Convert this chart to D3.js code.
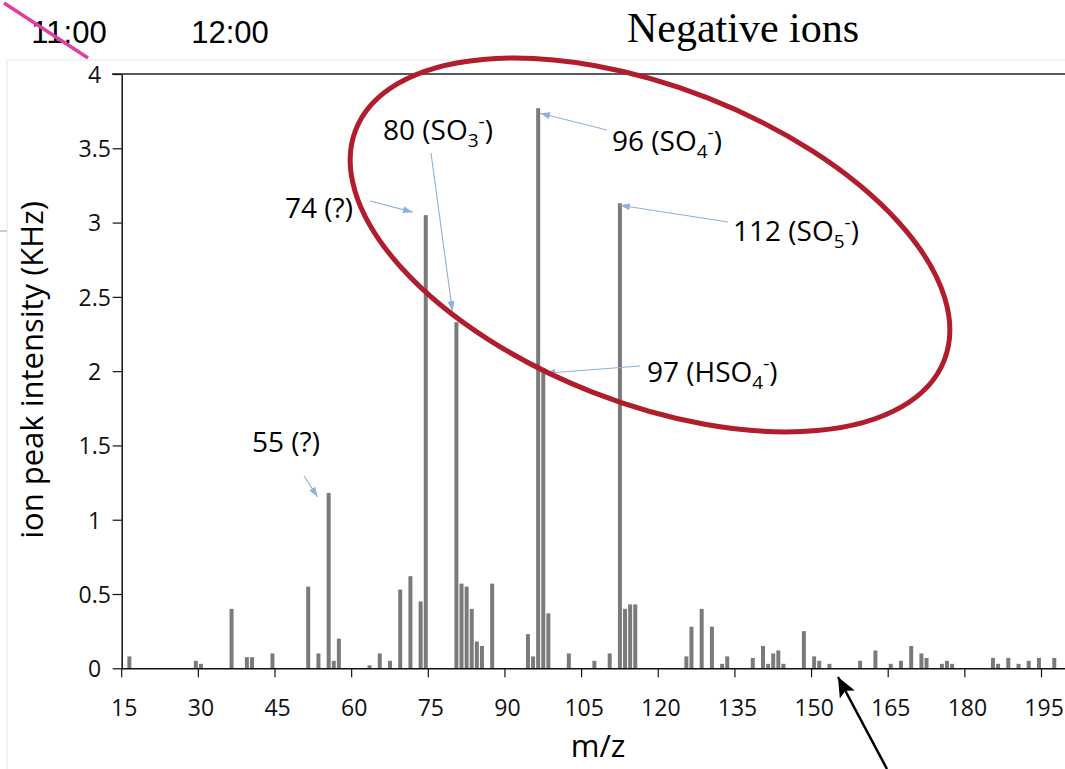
<!DOCTYPE html>
<html>
<head>
<meta charset="utf-8">
<script src="https://cdn.jsdelivr.net/npm/d3@7"></script>
<style>
  body { margin: 0; background: #fff; }
  svg { display: block; }
</style>
</head>
<body>
<svg width="1065" height="769"></svg>
<script>
// m/z channels shown on the category axis
const channels = d3.range(15, 200);
const xLabels = d3.range(15, 200, 15);
const yTicks = [0, 0.5, 1, 1.5, 2, 2.5, 3, 3.5, 4];

// negative ion peaks: m/z and intensity (kHz)
const mz = [16, 29, 30, 36, 39, 40, 44, 51, 53, 55, 56, 57, 63, 65, 67, 69, 71, 73, 74,
    80, 81, 82, 83, 84, 85, 87, 94, 95, 96, 97, 98, 102, 107, 110, 112, 113, 114, 115,
    125, 126, 128, 130, 132, 133, 138, 140, 141, 142, 143, 144, 148, 150, 151, 153,
    159, 162, 165, 167, 169, 171, 172, 175, 176, 177, 185, 186, 188, 190, 192, 194, 197];
const intensity = [0.08, 0.05, 0.03, 0.40, 0.075, 0.075, 0.10, 0.55, 0.10, 1.18, 0.05, 0.20, 0.02, 0.10, 0.05, 0.53, 0.62, 0.45, 3.05,
    2.33, 0.57, 0.55, 0.40, 0.18, 0.15, 0.57, 0.23, 0.08, 3.77, 2.02, 0.37, 0.10, 0.05, 0.10, 3.13, 0.40, 0.43, 0.43,
    0.08, 0.28, 0.40, 0.28, 0.03, 0.08, 0.07, 0.15, 0.03, 0.10, 0.12, 0.03, 0.25, 0.08, 0.05, 0.03,
    0.05, 0.12, 0.03, 0.05, 0.15, 0.10, 0.07, 0.03, 0.05, 0.03, 0.07, 0.03, 0.07, 0.03, 0.05, 0.07, 0.07];

// labelled peaks; pieces are [text, "sub" | "sup" | undefined]
const peakMz = [55, 74, 80, 96, 112, 97];
const peakText = [
    [["55 (?)"]],
    [["74 (?)"]],
    [["80 (SO"], ["3", "sub"], ["-", "sup"], [")"]],
    [["96 (SO"], ["4", "sub"], ["-", "sup"], [")"]],
    [["112 (SO"], ["5", "sub"], ["-", "sup"], [")"]],
    [["97 (HSO"], ["4", "sub"], ["-", "sup"], [")"]]
];

const peaks = mz.map((m, i) => ({ mz: m, value: intensity[i] }));

const svg = d3.select("svg");
const sans = "'Open Sans', sans-serif";

const x = d3.scaleBand()
    .domain(channels)
    .range([121.7, 121.7 + channels.length * 5.11])
    .paddingInner(0.22)
    .paddingOuter(0.11);

const y = d3.scaleLinear().domain([0, 4]).range([668.3, 74]);

// faint frame left over from the slide
svg.append("path")
    .attr("d", "M7,769V60H1065")
    .attr("fill", "none")
    .attr("stroke", "#eeeeee")
    .attr("stroke-width", 1.5);
svg.append("line")
    .attr("x1", 0).attr("x2", 7).attr("y1", 231).attr("y2", 231)
    .attr("stroke", "#999").attr("stroke-width", 1);

// top border line of the plot area
svg.append("line")
    .attr("x1", 112).attr("x2", 1065)
    .attr("y1", y(4)).attr("y2", y(4))
    .attr("stroke", "#222").attr("stroke-width", 1.3);

// bars
svg.append("g")
    .selectAll("rect")
    .data(peaks)
    .join("rect")
    .attr("x", d => x(d.mz))
    .attr("width", x.bandwidth())
    .attr("y", d => y(d.value))
    .attr("height", d => y(0) - y(d.value))
    .attr("fill", "#7a7a7a");

// x axis: ticks on category boundaries, labels centred in the category
const half = x.step() / 2;
const gx = svg.append("g")
    .attr("transform", `translate(0, ${y(0)})`)
    .call(d3.axisBottom(x).tickValues(xLabels).tickSize(9).tickSizeOuter(0));
gx.select(".domain").attr("stroke", "#111").attr("stroke-width", 1.5).attr("d", `M121.7,0.5H1065`);
gx.selectAll(".tick line")
    .attr("x1", -half).attr("x2", -half)
    .attr("stroke", "#111").attr("stroke-width", 1.2);
gx.selectAll(".tick text")
    .attr("y", 48).attr("dy", 0)
    .attr("font-family", sans).attr("font-size", 23).attr("fill", "#111");

// y axis
const gy = svg.append("g")
    .attr("transform", "translate(121.7, 0)")
    .call(d3.axisLeft(y).tickValues(yTicks).tickFormat(d => d).tickSize(9).tickSizeOuter(0));
gy.select(".domain").attr("stroke", "#111").attr("stroke-width", 1.5);
gy.selectAll(".tick line").attr("stroke", "#111").attr("stroke-width", 1.2);
gy.selectAll(".tick text")
    .attr("x", -27).attr("dy", "0.36em")
    .attr("text-anchor", "middle")
    .attr("font-family", sans).attr("font-size", 23).attr("fill", "#111");

// axis titles
svg.append("text")
    .attr("transform", "translate(43, 370) rotate(-90)")
    .attr("text-anchor", "middle")
    .attr("font-family", sans).attr("font-size", 31)
    .text("ion peak intensity (KHz)");

svg.append("text")
    .attr("x", 598).attr("y", 757)
    .attr("text-anchor", "middle")
    .attr("font-family", sans).attr("font-size", 31)
    .text("m/z");

// header texts
svg.append("text")
    .attr("x", 69).attr("y", 43)
    .attr("text-anchor", "middle")
    .attr("font-family", "'Liberation Sans', Arial, sans-serif").attr("font-size", 31)
    .text("11:00");
svg.append("text")
    .attr("x", 230).attr("y", 43)
    .attr("text-anchor", "middle")
    .attr("font-family", "'Liberation Sans', Arial, sans-serif").attr("font-size", 31)
    .text("12:00");
svg.append("text")
    .attr("x", 743).attr("y", 42)
    .attr("text-anchor", "middle")
    .attr("font-family", "'Liberation Serif', 'Times New Roman', serif").attr("font-size", 42)
    .text("Negative ions");

// pink strike across the first time label
svg.append("line")
    .attr("x1", 4).attr("y1", 3).attr("x2", 88).attr("y2", 58)
    .attr("stroke", "#e23ea0").attr("stroke-width", 3.5);

// arrow markers
const defs = svg.append("defs");
defs.append("marker")
    .attr("id", "blueHead")
    .attr("viewBox", "0 0 10 7")
    .attr("refX", 10).attr("refY", 3.5)
    .attr("markerWidth", 10).attr("markerHeight", 7)
    .attr("markerUnits", "userSpaceOnUse")
    .attr("orient", "auto")
    .append("path").attr("d", "M0,0L10,3.5L0,7Z").attr("fill", "#8fb0da");
defs.append("marker")
    .attr("id", "blackHead")
    .attr("viewBox", "0 0 14 12")
    .attr("refX", 14).attr("refY", 6)
    .attr("markerWidth", 20).attr("markerHeight", 17)
    .attr("markerUnits", "userSpaceOnUse")
    .attr("orient", "auto")
    .append("path").attr("d", "M0,0L14,6L0,12L3,6Z").attr("fill", "#000");

// label placement: text origin and arrow start, arrow tip offset from bar top
const labelLayout = {
    55:  { tx: 252, ty: 452, ax: 304, ay: 476, dx: -11, dy: 4 },
    74:  { tx: 285, ty: 218, ax: 370, ay: 201, dx: -13, dy: -3 },
    80:  { tx: 383, ty: 140, ax: 431, ay: 153, dx: -4, dy: -11 },
    96:  { tx: 612, ty: 151, ax: 607, ay: 130, dx: 2, dy: 5 },
    112: { tx: 733, ty: 241, ax: 728, ay: 222, dx: 0, dy: 2 },
    97:  { tx: 647, ty: 382, ax: 640, ay: 366, dx: 2, dy: 5 }
};

const ann = svg.append("g");
peakMz.forEach((m, i) => {
    const p = peaks.find(d => d.mz === m);
    const L = labelLayout[m];
    const tipX = x(m) + x.bandwidth() / 2 + L.dx;
    const tipY = y(p.value) + L.dy;
    ann.append("line")
        .attr("x1", L.ax).attr("y1", L.ay)
        .attr("x2", tipX).attr("y2", tipY)
        .attr("stroke", "#8fb0da").attr("stroke-width", 1.1)
        .attr("marker-end", "url(#blueHead)");
    const t = ann.append("text")
        .attr("x", L.tx).attr("y", L.ty)
        .attr("font-family", sans).attr("font-size", 28);
    peakText[i].forEach(([s, kind]) => {
        const ts = t.append("tspan").text(s);
        if (kind === "sub") ts.attr("font-size", 19).attr("dy", 7);
        if (kind === "sup") ts.attr("font-size", 19).attr("dy", -19);
        if (kind === undefined && i >= 2 && s === ")") ts.attr("dy", 12);
    });
});

// red ellipse around the sulfur oxide peaks
svg.append("ellipse")
    .attr("cx", 650).attr("cy", 245)
    .attr("rx", 316).attr("ry", 158)
    .attr("transform", "rotate(21.4 650 245)")
    .attr("fill", "none")
    .attr("stroke", "#b11d2d")
    .attr("stroke-width", 5);

// black pointer at the bottom
svg.append("line")
    .attr("x1", 887).attr("y1", 769)
    .attr("x2", 838).attr("y2", 677)
    .attr("stroke", "#000").attr("stroke-width", 2.5)
    .attr("marker-end", "url(#blackHead)");
</script>
</body>
</html>
